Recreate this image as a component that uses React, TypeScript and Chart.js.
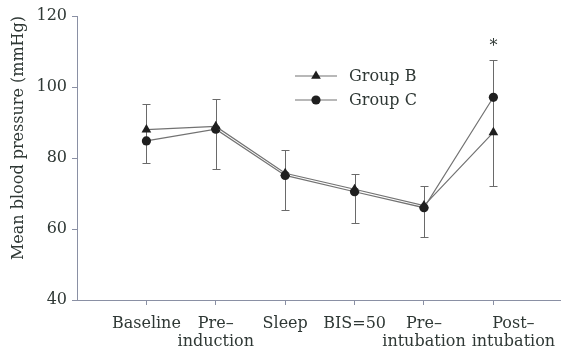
import React, { useEffect, useRef } from "react";
import { Chart, registerables } from "chart.js";

Chart.register(...registerables);

const categories: string[][] = [
  ["Baseline"],
  ["Pre–", "induction"],
  ["Sleep"],
  ["BIS=50"],
  ["Pre–", "intubation"],
  ["Post–", "intubation"],
];
const seriesLabels = ["Group B", "Group C"];
const groupB = [88.0, 88.9, 75.7, 71.2, 66.6, 87.2];
const groupC = [84.8, 88.1, 75.1, 70.5, 66.0, 97.1];
const errorHigh = [95.1, 96.7, 82.3, 75.6, 72.1, 107.6];
const errorLow = [78.7, 76.8, 65.3, 61.8, 57.7, 72.0];
const significance = ["", "", "", "", "", "*"];
const yTicks = [40, 60, 80, 100, 120];
const yTitle = "Mean blood pressure (mmHg)";

const FONT = "'DejaVu Serif', serif";
const TEXT = "#2f3835";
const AXIS = "#8a90a4";
const LINE = "#727272";
const MARK = "#1f1f1f";
const pointStyles = ["triangle", "circle"];
const pointRadii = [5.6, 4.6];

const overlay = {
  id: "overlay",
  beforeDatasetsDraw(chart: any) {
    const { ctx } = chart;
    const xs = chart.scales.x;
    const ys = chart.scales.y;
    ctx.save();
    ctx.strokeStyle = "#6a6a6a";
    ctx.lineWidth = 1;
    errorHigh.forEach((hi, i) => {
      const px = Math.round(xs.getPixelForValue(i)) + 0.5;
      const top = Math.round(ys.getPixelForValue(hi)) + 0.5;
      const bot = Math.round(ys.getPixelForValue(errorLow[i])) + 0.5;
      ctx.beginPath();
      ctx.moveTo(px, top);
      ctx.lineTo(px, bot);
      ctx.moveTo(px - 4, top);
      ctx.lineTo(px + 4, top);
      ctx.moveTo(px - 4, bot);
      ctx.lineTo(px + 4, bot);
      ctx.stroke();
    });
    ctx.restore();
  },
  afterDraw(chart: any) {
    const { ctx, width } = chart;
    const xs = chart.scales.x;
    const ys = chart.scales.y;
    ctx.save();
    ctx.fillStyle = TEXT;
    // x labels: each category block is nudged right as a whole to avoid overlaps
    ctx.font = `16px ${FONT}`;
    ctx.textAlign = "center";
    ctx.textBaseline = "alphabetic";
    const rows = Math.max(...categories.map((c) => c.length));
    const prevRight: number[] = new Array(rows).fill(-Infinity);
    categories.forEach((lines, i) => {
      let cx = xs.getPixelForValue(i);
      const widths = lines.map((t) => ctx.measureText(t).width);
      lines.forEach((t, j) => {
        const w = widths[j];
        if (cx - w / 2 < prevRight[j] + 6) cx = prevRight[j] + 6 + w / 2;
      });
      lines.forEach((t, j) => {
        const w = widths[j];
        const x = Math.min(cx, width - w / 2 - 1);
        ctx.fillText(t, x, xs.top + 28 + j * 18);
        prevRight[j] = x + w / 2;
      });
    });
    // significance marks
    significance.forEach((s, i) => {
      if (!s) return;
      ctx.fillText(s, xs.getPixelForValue(i), ys.getPixelForValue(errorHigh[i]) - 9);
    });
    // y title
    ctx.save();
    ctx.translate(19, 138);
    ctx.rotate(-Math.PI / 2);
    ctx.textBaseline = "middle";
    ctx.fillText(yTitle, 0, 0);
    ctx.restore();
    // legend
    seriesLabels.forEach((label, i) => {
      const ly = 76 + i * 24;
      ctx.strokeStyle = LINE;
      ctx.lineWidth = 1.2;
      ctx.beginPath();
      ctx.moveTo(295, ly);
      ctx.lineTo(337, ly);
      ctx.stroke();
      ctx.fillStyle = MARK;
      ctx.beginPath();
      if (pointStyles[i] === "triangle") {
        const r = pointRadii[i];
        for (let k = 0; k < 3; k++) {
          const a = (k * 2 * Math.PI) / 3;
          const X = 316 + Math.sin(a) * r;
          const Y = ly - Math.cos(a) * r;
          k === 0 ? ctx.moveTo(X, Y) : ctx.lineTo(X, Y);
        }
        ctx.closePath();
      } else {
        ctx.arc(316, ly, pointRadii[i], 0, Math.PI * 2);
      }
      ctx.fill();
      ctx.fillStyle = TEXT;
      ctx.textAlign = "left";
      ctx.textBaseline = "middle";
      ctx.fillText(label, 349, ly + 1);
    });
    ctx.restore();
  },
};

export default function App() {
  const ref = useRef<HTMLCanvasElement | null>(null);
  useEffect(() => {
    if (!ref.current) return;
    const mk = (vals: number[]) => vals.map((v, i) => ({ x: i, y: v }));
    const chart = new Chart(ref.current, {
      type: "line",
      data: {
        datasets: [groupB, groupC].map((vals, i) => ({
          label: seriesLabels[i],
          data: mk(vals),
          borderColor: LINE,
          borderWidth: 1.2,
          backgroundColor: MARK,
          pointBackgroundColor: MARK,
          pointBorderColor: MARK,
          pointBorderWidth: 0,
          pointStyle: pointStyles[i] as any,
          pointRadius: pointRadii[i],
          tension: 0,
          fill: false,
        })),
      },
      options: {
        animation: false,
        responsive: true,
        maintainAspectRatio: false,
        layout: { autoPadding: false, padding: { top: 16, right: 2, left: 0, bottom: 0 } },
        plugins: { legend: { display: false }, tooltip: { enabled: false } },
        scales: {
          x: {
            type: "linear",
            min: -1,
            max: 5.96,
            afterBuildTicks: (s: any) => {
              s.ticks = categories.map((_, i) => ({ value: i }));
            },
            afterFit: (s: any) => {
              s.height = 49;
            },
            ticks: { display: false },
            grid: { drawOnChartArea: false, drawTicks: true, tickLength: 5, color: AXIS },
            border: { color: AXIS, width: 1 },
          },
          y: {
            min: 40,
            max: 120,
            afterBuildTicks: (s: any) => {
              s.ticks = yTicks.map((v) => ({ value: v }));
            },
            afterFit: (s: any) => {
              s.width = 77;
            },
            ticks: { color: TEXT, font: { family: FONT, size: 16 }, padding: 5 },
            grid: { drawOnChartArea: false, drawTicks: true, tickLength: 5, color: AXIS },
            border: { color: AXIS, width: 1 },
          },
        },
      },
      plugins: [overlay],
    });
    return () => chart.destroy();
  }, []);
  return (
    <div style={{ position: "fixed", left: 0, top: 0, width: 562, height: 349, background: "#fff" }}>
      <canvas ref={ref} />
    </div>
  );
}
